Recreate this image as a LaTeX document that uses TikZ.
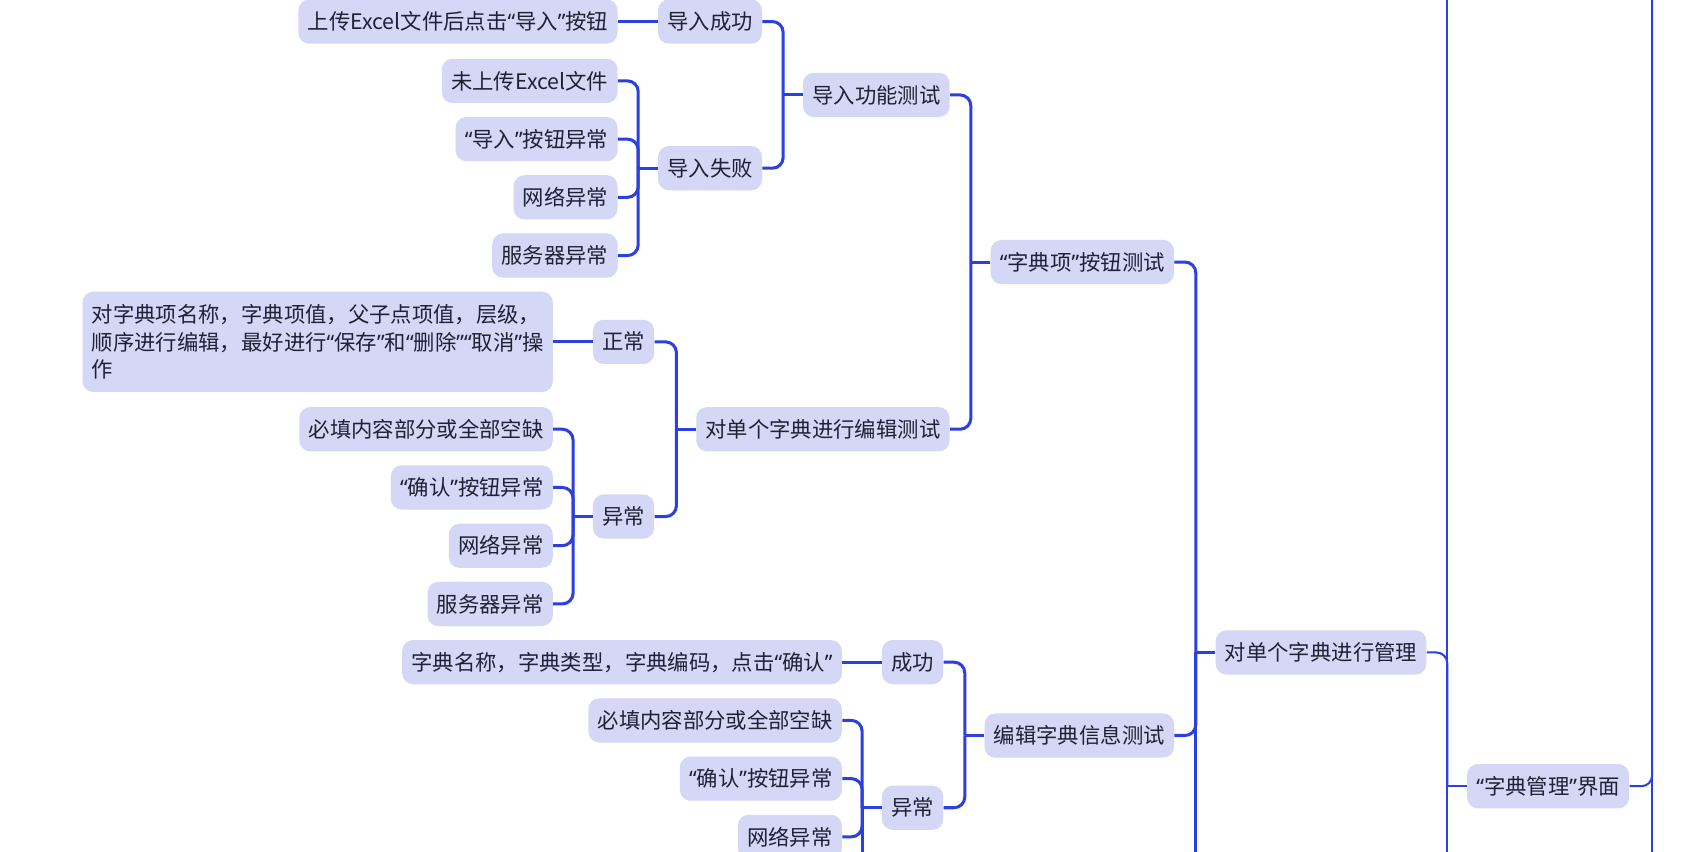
\documentclass[tikz,border=0pt]{standalone}
\usepackage{fontspec}
\setmainfont{Noto Sans CJK SC}
\newfontfamily\quotefont{Noto Sans}
\newcommand{\qL}{{\quotefont “}}
\newcommand{\qR}{{\quotefont ”}}
\definecolor{nodefill}{HTML}{D4D7F5}
\definecolor{linkblue}{HTML}{2C3FE0}
\definecolor{inkcol}{HTML}{1E2236}
\tikzset{
  topic/.style={
    fill=nodefill,
    rounded corners=5pt,
    inner xsep=4.3pt,
    inner ysep=0pt,
    minimum height=20.5pt,
    text=inkcol,
    font=\fontsize{9.9pt}{12.75pt}\selectfont,
    anchor=east
  },
  link/.style={
    linkblue,
    line width=1.4pt,
    rounded corners=5pt
  },
  thinlink/.style={
    link,
    line width=0.95pt
  }
}

\begin{document}
\begin{tikzpicture}[x=0.5pt,y=-0.5pt]
    \useasboundingbox (0,0) rectangle (1568,790);
    \fill[white] (0,0) rectangle (1568,790);
    \clip (0,0) rectangle (1568,790);
    \coordinate (edgeT) at (0,-10);
    \coordinate (edgeB) at (0,800);

    % 节点
    \node[topic] (upload) at (573,20) {上传Excel文件后点击\qL 导入\qR 按钮};
    \node[topic] (impOK) at (707,20) {导入成功};
    \node[topic] (noFile) at (573,75) {未上传Excel文件};
    \node[topic] (btnErr) at (573,129) {\qL 导入\qR 按钮异常};
    \node[topic] (netErrA) at (573,183) {网络异常};
    \node[topic] (srvErrA) at (573,237) {服务器异常};
    \node[topic] (impFail) at (707,156) {导入失败};
    \node[topic] (impTest) at (881,88) {导入功能测试};
    \node[topic] (itemBtn) at (1089,243) {\qL 字典项\qR 按钮测试};

    \node[topic,align=left,minimum height=46.5pt] (editText) at (513,317)
        {对字典项名称，字典项值，父子点项值，层级，\\顺序进行编辑，最好进行\qL 保存\qR 和\qL 删除\qR\qL 取消\qR 操\\作};
    \node[topic] (normal) at (607,317) {正常};
    \node[topic] (emptyA) at (513,398) {必填内容部分或全部空缺};
    \node[topic] (confA) at (513,452) {\qL 确认\qR 按钮异常};
    \node[topic] (netErrB) at (513,506) {网络异常};
    \node[topic] (srvErrB) at (513,560) {服务器异常};
    \node[topic] (abnA) at (607,479) {异常};
    \node[topic] (editOne) at (881,398) {对单个字典进行编辑测试};

    \node[topic] (fields) at (781,614) {字典名称，字典类型，字典编码，点击\qL 确认\qR};
    \node[topic] (succ) at (875,614) {成功};
    \node[topic] (emptyB) at (781,668) {必填内容部分或全部空缺};
    \node[topic] (confB) at (781,722) {\qL 确认\qR 按钮异常};
    \node[topic] (netErrC) at (781,776) {网络异常};
    \node[topic] (abnB) at (875,749) {异常};
    \node[topic] (editInfo) at (1089,682) {编辑字典信息测试};

    \node[topic] (manage) at (1323,605) {对单个字典进行管理};
    \node[topic] (page) at (1511,729) {\qL 字典管理\qR 界面};

    % 连线
    \draw[link] (impOK.west) -- (upload.east);
    \draw[link] (impFail.west) -- ++(-18,0) coordinate (impFail-s);
    \foreach \c in {noFile,btnErr,netErrA,srvErrA}
        \draw[link] (impFail-s) |- (\c.east);
    \draw[link] (impTest.west) -- ++(-18,0) coordinate (impTest-s);
    \draw[link] (impTest-s) |- (impOK.east);
    \draw[link] (impTest-s) |- (impFail.east);

    \draw[link] (normal.west) -- (editText.east);
    \draw[link] (abnA.west) -- ++(-18,0) coordinate (abnA-s);
    \foreach \c in {emptyA,confA,netErrB,srvErrB}
        \draw[link] (abnA-s) |- (\c.east);
    \draw[link] (editOne.west) -- ++(-18,0) coordinate (editOne-s);
    \draw[link] (editOne-s) |- (normal.east);
    \draw[link] (editOne-s) |- (abnA.east);

    \draw[link] (itemBtn.west) -- ++(-18,0) coordinate (itemBtn-s);
    \draw[link] (itemBtn-s) |- (impTest.east);
    \draw[link] (itemBtn-s) |- (editOne.east);

    \draw[link] (succ.west) -- (fields.east);
    \draw[link] (abnB.west) -- ++(-18,0) coordinate (abnB-s);
    \foreach \c in {emptyB,confB,netErrC}
        \draw[link] (abnB-s) |- (\c.east);
    \draw[link] (abnB-s) -- (abnB-s |- edgeB);
    \draw[link] (editInfo.west) -- ++(-18,0) coordinate (editInfo-s);
    \draw[link] (editInfo-s) |- (succ.east);
    \draw[link] (editInfo-s) |- (abnB.east);

    \draw[link] (manage.west) -- ++(-18,0) coordinate (manage-s);
    \draw[link] (manage-s) |- (itemBtn.east);
    \draw[link] (manage-s) |- (editInfo.east);
    \draw[link] (manage-s) -- (manage-s |- edgeB);

    \draw[thinlink] (page.west) -- ++(-18,0) coordinate (page-s);
    \draw[thinlink] (page-s) |- (manage.east);
    \draw[thinlink] (page-s |- edgeT) -- (page-s |- edgeB);

    \coordinate (root-s) at (1532,-10);
    \draw[thinlink] (root-s) |- (page.east);
    \draw[thinlink] (root-s) -- (root-s |- edgeB);
\end{tikzpicture}
\end{document}
